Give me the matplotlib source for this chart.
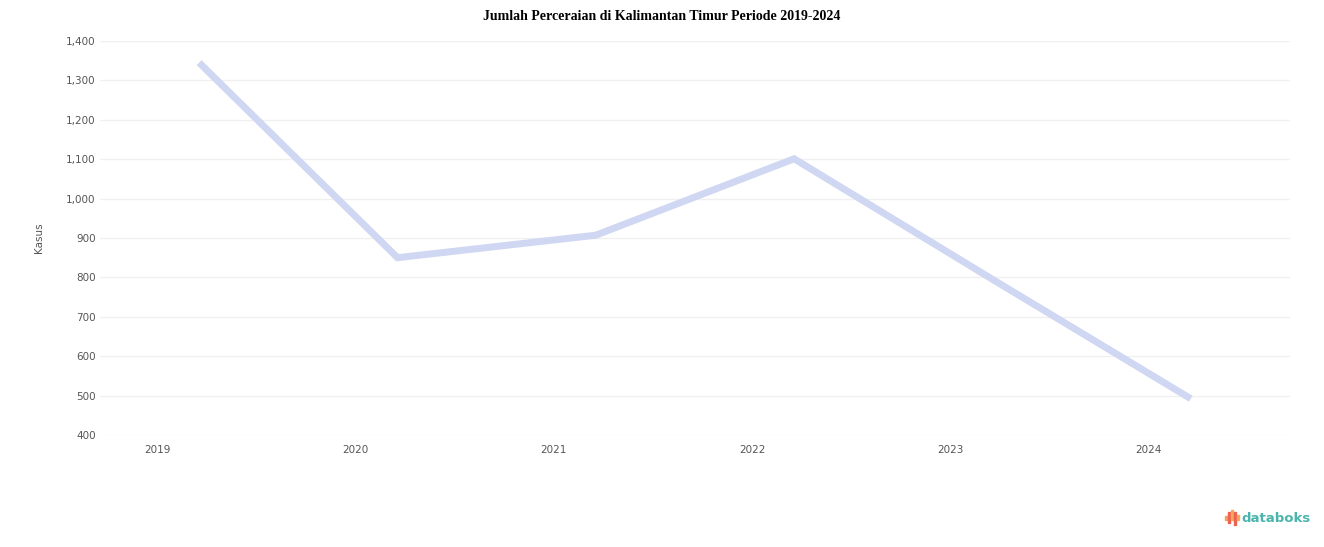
import matplotlib
matplotlib.use("Agg")
import matplotlib.pyplot as plt
import matplotlib.transforms as mtransforms
from matplotlib.patches import Rectangle
from matplotlib.ticker import FuncFormatter

years = ["2019", "2020", "2021", "2022", "2023", "2024"]
cases = [1345, 850, 907, 1101, 795, 492]
y_ticks = [400, 500, 600, 700, 800, 900, 1000, 1100, 1200, 1300, 1400]

fig = plt.figure(figsize=(13.24, 5.47), dpi=100)
ax = fig.add_axes([0.0755, 0.2048, 0.8988, 0.7203])

x = list(range(len(years)))
ax.plot(x, cases, color="#cfd7f2", lw=5, solid_capstyle="butt", solid_joinstyle="miter", zorder=3)

ax.set_xlim(-0.5, len(years) - 0.5)
ax.set_ylim(400, 1400)
ax.set_yticks(y_ticks)
ax.yaxis.set_major_formatter(FuncFormatter(lambda v, p: f"{int(v):,}"))
ax.grid(axis="y", color="#f0f0f0", lw=1)
ax.set_axisbelow(True)
for s in ax.spines.values():
    s.set_visible(False)
ax.tick_params(axis="both", length=0, labelsize=7.5, colors="#555555")
ax.tick_params(axis="y", pad=3)
ax.tick_params(axis="x", pad=7)
ax.set_xticks(x)
ax.set_xticklabels(years)
offset = mtransforms.ScaledTranslation(-0.42, 0, fig.dpi_scale_trans)
for lbl in ax.get_xticklabels():
    lbl.set_transform(lbl.get_transform() + offset)

ax.set_ylabel("Kasus", fontsize=7.5, color="#555555", labelpad=16)

fig.text(0.5, 0.982, "Jumlah Perceraian di Kalimantan Timur Periode 2019-2024",
         ha="center", va="top", fontsize=10, fontweight="bold",
         family="Liberation Serif", color="#000000")

# databoks logo
fig.text(1241 / 1324, 1 - 518 / 547, "databoks", ha="left", va="center", fontsize=9.5,
         color="#4ab5ad", fontweight="bold", family="DejaVu Sans")
bars = [(1225, 516, 520, "#f4a060"), (1228, 512, 523, "#ee6350"), (1231, 510, 520, "#f6a662"),
        (1234, 512, 525, "#ee6350"), (1237, 515, 520, "#f6a662")]
for bx, yt, yb, c in bars:
    fig.patches.append(Rectangle((bx / 1324, 1 - yb / 547), 1.8 / 1324, (yb - yt) / 547,
                                 transform=fig.transFigure, color=c, figure=fig))

fig.savefig("out.png", dpi=100, facecolor="white")
